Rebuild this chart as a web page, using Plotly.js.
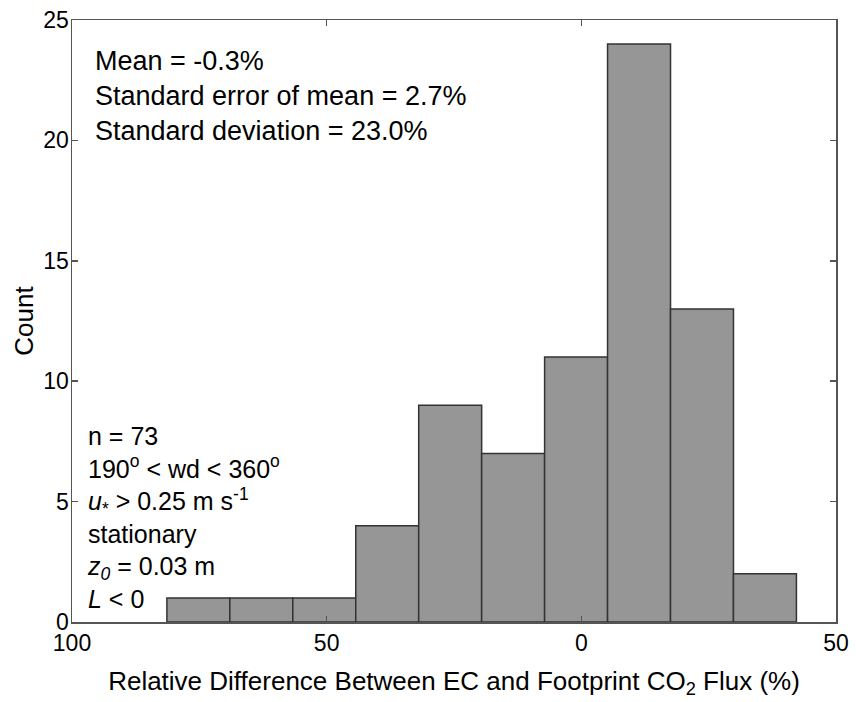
<!DOCTYPE html>
<html>
<head>
<meta charset="utf-8">
<script src="https://cdn.plot.ly/plotly-3.0.1.min.js"></script>
<style>html,body{margin:0;padding:0;background:#fff;}#chart{width:856px;height:702px;}</style>
</head>
<body>
<div id="chart"></div>
<script>
// Bin centers (relative difference, %) and counts
var binCenters = [75.19, 62.83, 50.47, 38.11, 25.75, 13.39, 1.03, -11.33, -23.69, -36.05];
var counts = [1, 1, 1, 4, 9, 7, 11, 24, 13, 2];
var xTickVals = [100, 50, 0, -50];
var xTickText = ['100', '50', '0', '50'];
var yTickVals = [0, 5, 10, 15, 20, 25];

var statsText = ['Mean = -0.3%', 'Standard error of mean = 2.7%', 'Standard deviation = 23.0%'];
var condText = ['n = 73', '190<sup>o</sup> < wd < 360<sup>o</sup>', '<i>u</i><sub>*</sub> > 0.25 m s<sup>-1</sup>',
  'stationary', '<i>z<sub>0</sub></i> = 0.03 m', '<i>L</i> < 0'];

var font = 'Liberation Sans, Arial, sans-serif';

var trace = {
  type: 'bar',
  x: binCenters,
  y: counts,
  marker: {color: '#969696', line: {color: '#333333', width: 1.5}},
  hoverinfo: 'x+y'
};

var layout = {
  width: 856, height: 702,
  margin: {l: 72, r: 20, t: 20, b: 80, pad: 0},
  paper_bgcolor: '#fff', plot_bgcolor: '#fff',
  bargap: 0,
  showlegend: false,
  font: {family: font, color: '#000', size: 23},
  xaxis: {
    range: [100, -50], tickmode: 'array', tickvals: xTickVals, ticktext: xTickText,
    ticks: 'inside', ticklen: 6, tickwidth: 1.5, tickcolor: '#555', mirror: 'ticks',
    showline: true, linecolor: '#555', linewidth: 1.5, showgrid: false, zeroline: false,
    tickfont: {family: font, size: 23, color: '#000'},
    title: {text: 'Relative Difference Between EC and Footprint CO<sub>2</sub> Flux (%)', font: {family: font, size: 26, color: '#000'}, standoff: 16}
  },
  yaxis: {
    range: [0, 25], tickmode: 'array', tickvals: yTickVals,
    ticks: 'inside', ticklen: 6, tickwidth: 1.5, tickcolor: '#555', mirror: 'ticks',
    showline: true, linecolor: '#555', linewidth: 1.5, showgrid: false, zeroline: false,
    ticklabelstandoff: -3,
    tickfont: {family: font, size: 23, color: '#000'},
    title: {text: 'Count', font: {family: font, size: 26, color: '#000'}, standoff: 2}
  },
  annotations: [
    {xref: 'paper', yref: 'paper', x: 0.027, y: 0.960, xanchor: 'left', yanchor: 'top', align: 'left',
     showarrow: false, text: statsText.join('<br>'), font: {family: font, size: 27, color: '#000'}},
    {xref: 'paper', yref: 'paper', x: 0.017, y: 0.335, xanchor: 'left', yanchor: 'top', align: 'left',
     showarrow: false, text: condText.join('<br>'), font: {family: font, size: 25, color: '#000'}}
  ]
};

Plotly.newPlot('chart', [trace], layout, {displayModeBar: false, staticPlot: true});
</script>
</body>
</html>
